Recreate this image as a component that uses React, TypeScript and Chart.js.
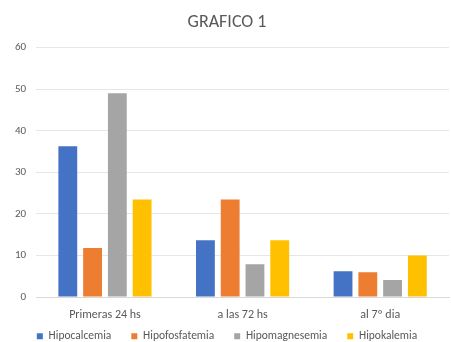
import React, { useEffect, useRef } from "react";
import { Chart, registerables } from "chart.js";

Chart.register(...registerables);

const categories = ["Primeras 24 hs", "a las 72 hs", "al 7º dia"];
const hipocalcemia = [36.3, 13.7, 6.2];
const hipofosfatemia = [11.8, 23.5, 6];
const hipomagnesemia = [49, 7.9, 4.1];
const hipokalemia = [23.5, 13.7, 10];
const yTicks = [0, 10, 20, 30, 40, 50, 60];

const LEGEND_PAD = 20;
const LEGEND_V = 4;
const LEGEND_SHIFT = 15;

const legendTweak = {
  id: "legendTweak",
  beforeUpdate(chart: any) {
    const lg = chart.legend;
    if (lg && !lg.__wrapped) {
      const orig = lg.fit.bind(lg);
      lg.fit = function () {
        orig();
        this.height -= LEGEND_PAD - LEGEND_V;
      };
      lg.__wrapped = true;
    }
  },
  afterLayout(chart: any) {
    const lg = chart.legend;
    if (lg) {
      lg.top -= LEGEND_SHIFT;
      lg.bottom = Math.max(lg.bottom, chart.height);
    }
  },
};

export default function App() {
  const ref = useRef<HTMLCanvasElement>(null);
  useEffect(() => {
    if (!ref.current) return;
    const font = "Calibri, Carlito, 'Open Sans', 'Liberation Sans', sans-serif";
    const chart = new Chart(ref.current, {
      type: "bar",
      data: {
        labels: categories,
        datasets: [
          { label: "Hipocalcemia", data: hipocalcemia, backgroundColor: "#4472C4" },
          { label: "Hipofosfatemia", data: hipofosfatemia, backgroundColor: "#ED7D31" },
          { label: "Hipomagnesemia", data: hipomagnesemia, backgroundColor: "#A5A5A5" },
          { label: "Hipokalemia", data: hipokalemia, backgroundColor: "#FFC000" },
        ],
      },
      plugins: [legendTweak],
      options: {
        animation: false,
        responsive: false,
        maintainAspectRatio: false,
        layout: { padding: { left: 5, right: 2, top: 6, bottom: -9 } },
        datasets: { bar: { barPercentage: 0.76, categoryPercentage: 0.72 } },
        plugins: {
          title: {
            display: true,
            text: "GRAFICO 1",
            color: "#595959",
            font: { family: font, size: 18, weight: "normal" },
            padding: { top: 6, bottom: 14 },
          },
          legend: {
            position: "bottom",
            labels: {
              boxWidth: 6,
              boxHeight: 6,
              color: "#595959",
              font: { family: font, size: 11.5 },
              padding: LEGEND_PAD,
            },
          },
          tooltip: { enabled: false },
        },
        scales: {
          x: {
            grid: { display: false },
            border: { color: "#D9D9D9" },
            ticks: { color: "#595959", font: { family: font, size: 12 }, padding: 3 },
          },
          y: {
            min: 0,
            max: 60,
            afterBuildTicks: (axis: any) => {
              axis.ticks = yTicks.map((v) => ({ value: v }));
            },
            grid: { color: "#E6E6E6", drawTicks: false },
            border: { display: false },
            ticks: { color: "#595959", font: { family: font, size: 11 }, padding: 10 },
          },
        },
      },
    });
    return () => chart.destroy();
  }, []);
  return (
    <div style={{ position: "fixed", left: 0, top: 0, width: 451, height: 342, background: "#fff" }}>
      <canvas ref={ref} width={451} height={342} />
    </div>
  );
}
